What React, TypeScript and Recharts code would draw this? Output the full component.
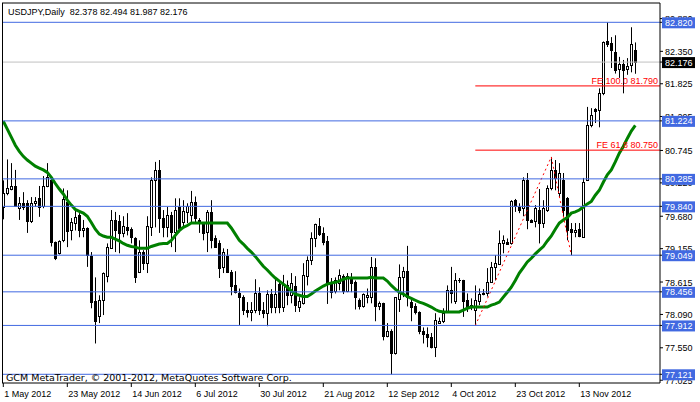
import React from "react";
import { ComposedChart, Bar, Line, XAxis, YAxis, ReferenceLine } from "recharts";

// daily bars, [open, high, low, close]
const ohlc: [number, number, number, number][] = [
  [79.83, 80.26, 79.63, 80.05], [80.05, 80.60, 80.02, 80.13], [80.12, 80.54, 80.10, 80.17], [80.17, 80.43, 79.83, 79.84],
  [79.81, 79.99, 79.62, 79.89], [79.89, 80.07, 79.78, 79.83], [79.89, 79.94, 79.41, 79.60], [79.60, 79.99, 79.57, 79.89],
  [79.89, 79.99, 79.83, 79.92], [79.97, 80.17, 79.67, 79.83], [79.84, 80.33, 79.81, 80.17], [80.17, 80.54, 80.15, 80.31],
  [80.26, 80.30, 79.19, 79.26], [79.26, 79.27, 78.97, 79.00], [79.08, 79.29, 79.06, 79.28], [79.29, 80.13, 79.26, 79.96],
  [79.91, 80.10, 79.18, 79.44], [79.45, 79.65, 79.29, 79.58], [79.57, 79.78, 79.45, 79.67], [79.70, 79.73, 79.34, 79.45],
  [79.45, 79.62, 79.34, 79.49], [79.49, 79.50, 78.86, 79.05], [79.03, 79.10, 78.19, 78.29], [78.30, 78.69, 77.62, 77.98],
  [78.06, 78.40, 77.95, 78.32], [78.32, 78.77, 78.08, 78.76], [78.71, 79.24, 78.61, 79.18], [79.16, 79.78, 79.15, 79.62],
  [79.62, 79.75, 79.10, 79.45], [79.60, 79.70, 79.08, 79.41], [79.41, 79.68, 79.34, 79.52], [79.50, 79.73, 79.37, 79.45],
  [79.47, 79.50, 79.24, 79.34], [79.32, 79.34, 78.60, 78.69], [78.77, 79.29, 78.76, 79.10], [79.10, 79.13, 78.81, 78.92],
  [78.92, 79.68, 78.76, 79.52], [79.50, 80.31, 79.36, 80.26], [80.26, 80.56, 79.50, 80.43], [80.43, 80.59, 79.41, 79.65],
  [79.65, 79.78, 79.34, 79.50], [79.50, 79.83, 79.34, 79.70], [79.70, 79.75, 79.18, 79.42], [79.42, 79.97, 79.10, 79.78],
  [79.83, 79.97, 79.42, 79.49], [79.58, 79.94, 79.49, 79.76], [79.75, 79.89, 79.57, 79.84], [79.70, 80.09, 79.58, 79.91],
  [79.91, 80.00, 79.57, 79.65], [79.62, 79.65, 79.41, 79.57], [79.55, 79.57, 79.29, 79.41], [79.42, 79.78, 79.10, 79.75],
  [79.75, 79.94, 79.16, 79.29], [79.32, 79.37, 79.17, 79.18], [79.24, 79.29, 78.68, 78.84], [78.86, 79.16, 78.76, 79.10],
  [79.03, 79.15, 78.76, 78.77], [78.77, 78.81, 78.40, 78.55], [78.56, 78.79, 78.43, 78.45], [78.43, 78.51, 77.92, 78.37],
  [78.37, 78.40, 78.08, 78.17], [78.17, 78.29, 78.04, 78.13], [78.13, 78.29, 77.98, 78.17], [78.17, 78.66, 78.11, 78.43],
  [78.43, 78.53, 78.08, 78.16], [78.16, 78.29, 78.03, 78.11], [78.11, 78.48, 77.90, 78.42], [78.42, 78.50, 78.11, 78.21],
  [78.21, 78.68, 78.11, 78.42], [78.58, 78.64, 78.11, 78.21], [78.21, 78.73, 78.13, 78.58], [78.56, 78.64, 78.24, 78.40],
  [78.40, 78.76, 78.27, 78.60], [78.55, 78.71, 78.13, 78.24], [78.21, 78.37, 78.13, 78.30], [78.27, 78.92, 78.25, 78.73],
  [78.71, 79.03, 78.56, 78.97], [78.97, 79.42, 78.89, 79.32], [79.32, 79.56, 79.18, 79.55], [79.52, 79.65, 79.36, 79.39],
  [79.41, 79.50, 79.21, 79.26], [79.28, 79.36, 78.26, 78.60], [78.58, 78.68, 78.35, 78.45], [78.47, 78.69, 78.43, 78.64],
  [78.60, 78.82, 78.48, 78.73], [78.71, 78.74, 78.42, 78.47], [78.47, 78.76, 78.45, 78.71], [78.68, 78.76, 78.45, 78.60],
  [78.61, 78.64, 78.17, 78.37], [78.32, 78.35, 78.17, 78.22], [78.22, 78.43, 78.20, 78.42], [78.37, 78.51, 78.27, 78.40],
  [78.37, 79.02, 78.27, 78.86], [78.86, 79.00, 77.98, 78.22], [78.22, 78.30, 78.16, 78.27], [78.27, 78.28, 77.67, 77.74],
  [77.74, 77.95, 77.72, 77.83], [77.83, 77.85, 77.12, 77.46], [77.46, 78.37, 77.44, 78.37], [78.34, 78.90, 78.13, 78.69],
  [78.69, 78.86, 78.37, 78.79], [78.79, 79.20, 78.22, 78.37], [78.29, 78.37, 77.98, 78.21], [78.22, 78.27, 78.09, 78.13],
  [78.13, 78.14, 77.77, 77.82], [77.83, 77.88, 77.62, 77.77], [77.77, 77.88, 77.56, 77.72], [77.72, 77.79, 77.54, 77.56],
  [77.56, 78.11, 77.40, 78.00], [77.95, 78.04, 77.94, 77.98], [77.98, 78.19, 77.95, 78.11], [78.14, 78.56, 78.13, 78.48],
  [78.48, 78.86, 78.27, 78.43], [78.30, 78.76, 78.26, 78.64], [78.64, 78.68, 78.60, 78.64], [78.64, 78.65, 78.05, 78.30],
  [78.32, 78.43, 78.13, 78.21], [78.24, 78.35, 78.16, 78.21], [78.17, 78.56, 77.91, 78.32], [78.30, 78.51, 78.24, 78.42],
  [78.43, 78.50, 78.40, 78.42], [78.43, 78.84, 78.38, 78.61], [78.61, 78.94, 78.60, 78.86], [78.86, 79.05, 78.64, 78.92],
  [78.90, 79.45, 78.89, 79.24], [79.24, 79.37, 79.08, 79.29], [79.26, 79.32, 79.22, 79.23], [79.24, 79.94, 79.22, 79.92],
  [79.94, 79.96, 79.75, 79.84], [79.83, 79.89, 79.73, 79.78], [79.81, 80.31, 79.68, 80.26], [80.26, 80.38, 79.47, 79.62],
  [79.62, 79.63, 79.57, 79.58], [79.60, 79.86, 79.50, 79.81], [79.78, 80.12, 79.24, 79.57], [79.57, 79.94, 79.49, 79.81],
  [79.78, 80.18, 79.75, 80.13], [80.13, 80.64, 80.10, 80.43], [80.43, 80.59, 80.10, 80.30], [80.05, 80.54, 79.99, 80.38],
  [80.26, 80.38, 79.67, 79.78], [79.97, 79.99, 79.29, 79.45], [79.47, 79.57, 79.05, 79.42], [79.42, 79.57, 79.34, 79.45],
  [79.47, 79.57, 79.34, 79.36], [79.34, 80.30, 79.33, 80.23], [80.26, 81.45, 80.25, 81.15], [81.15, 81.43, 81.12, 81.32],
  [81.42, 81.43, 81.19, 81.38], [81.40, 81.75, 81.12, 81.67], [81.67, 82.51, 81.64, 82.50], [82.52, 82.82, 82.42, 82.47],
  [82.48, 82.58, 82.08, 82.37], [82.34, 82.61, 81.99, 82.05], [82.06, 82.26, 81.92, 82.14], [82.14, 82.21, 81.67, 82.05],
  [82.06, 82.24, 81.97, 82.11], [82.13, 82.74, 82.01, 82.47], [82.378, 82.494, 81.987, 82.176],
];

// moving average
const maValues = [
  81.22, 81.09, 80.96, 80.83, 80.73, 80.65, 80.59, 80.54, 80.49, 80.46,
  80.43, 80.39, 80.31, 80.21, 80.12, 80.04, 79.94, 79.86, 79.79, 79.76,
  79.73, 79.68, 79.58, 79.47, 79.39, 79.36, 79.34, 79.34, 79.31, 79.28,
  79.24, 79.21, 79.19, 79.18, 79.16, 79.16, 79.16, 79.19, 79.21, 79.23,
  79.24, 79.24, 79.29, 79.37, 79.45, 79.50, 79.53, 79.57, 79.57, 79.57,
  79.57, 79.57, 79.57, 79.57, 79.57, 79.57, 79.57, 79.49, 79.39, 79.29,
  79.23, 79.16, 79.10, 79.03, 78.95, 78.87, 78.81, 78.74, 78.68, 78.63,
  78.58, 78.53, 78.47, 78.42, 78.40, 78.38, 78.38, 78.42, 78.47, 78.51,
  78.55, 78.58, 78.60, 78.61, 78.63, 78.66, 78.68, 78.68, 78.68, 78.68,
  78.68, 78.68, 78.69, 78.68, 78.68, 78.68, 78.63, 78.56, 78.50, 78.45,
  78.42, 78.38, 78.35, 78.32, 78.29, 78.27, 78.24, 78.21, 78.17, 78.14,
  78.13, 78.13, 78.13, 78.13, 78.13, 78.16, 78.19, 78.21, 78.21, 78.21,
  78.21, 78.21, 78.24, 78.26, 78.29, 78.37, 78.45, 78.53, 78.64, 78.76,
  78.85, 78.94, 79.00, 79.07, 79.13, 79.19, 79.28, 79.36, 79.47, 79.57,
  79.62, 79.66, 79.73, 79.75, 79.78, 79.83, 79.88, 79.92, 80.02, 80.10,
  80.23, 80.35, 80.43, 80.56, 80.70, 80.81, 80.94, 81.06, 81.15,
];

const xLabels = [
  "1 May 2012", "23 May 2012", "14 Jun 2012", "6 Jul 2012", "30 Jul 2012",
  "21 Aug 2012", "12 Sep 2012", "4 Oct 2012", "23 Oct 2012", "13 Nov 2012",
];
const barsPerLabel = 16;

const axisTicks = [82.88, 82.35, 81.825, 81.295, 80.745, 80.22, 79.68, 79.155, 78.615, 78.09, 77.55, 77.025];
const blueLevels = [82.82, 81.224, 80.285, 79.84, 79.049, 78.456, 77.912, 77.121];
const bidPrice = 82.176;

// fibo expansion swing points: [bar index, price]
const fiboSwing: [number, number][] = [[118, 77.91], [137, 80.64], [142, 79.05]];
const feLevels = [
  { name: "FE 100.0", price: 81.79 },
  { name: "FE 61.8", price: 80.75 },
];

const yDomain: [number, number] = [76.98, 83.1325];
const xDomain: [number, number] = [-0.325, 164.175];

const FONT = "'Liberation Sans', Arial, sans-serif";
const BLUE = "#4169e1";

const rows = ohlc.map(([o, h, l, c], i) => ({
  i, o, h, l, c,
  range: [l, h],
  ma: maValues[i],
  fe: null as number | null,
}));
fiboSwing.forEach(([i, p]) => { rows[i].fe = p; });

const last = ohlc[ohlc.length - 1];
const header = `USDJPY,Daily\u00a0\u00a0${last.map((v) => v.toFixed(3)).join(" ")}`;

const Candle = (props: any) => {
  const { x, y, width, height, payload } = props;
  if (x == null || y == null) return null;
  const { o, h, l, c } = payload;
  const top = Math.min(y, y + height);
  const bottom = Math.max(y, y + height);
  const span = h - l;
  const toY = (v: number) => (span === 0 ? top : top + ((h - v) / span) * (bottom - top));
  const cx = Math.round(x + width / 2) + 0.5;
  const bTop = Math.round(toY(Math.max(o, c)));
  const bBot = Math.round(toY(Math.min(o, c)));
  const up = c >= o;
  return (
    <g>
      <line x1={cx} x2={cx} y1={top} y2={bottom} stroke="#000" strokeWidth={1} />
      {bBot - bTop < 1 ? (
        <line x1={cx - 1.5} x2={cx + 1.5} y1={bTop + 0.5} y2={bTop + 0.5} stroke="#000" />
      ) : (
        <rect x={cx - 1} y={bTop + 0.5} width={2} height={bBot - bTop} fill={up ? "#fff" : "#000"} stroke="#000" strokeWidth={1} />
      )}
    </g>
  );
};

const YTick = (props: any) => {
  const { x, y, payload } = props;
  const v = payload.value as number;
  const label = v.toFixed(3);
  const boxed = v === bidPrice ? "#000" : blueLevels.includes(v) ? BLUE : null;
  if (boxed) {
    return (
      <g>
        <rect x={x - 1} y={y - 5} width={33} height={11} fill={boxed} />
        <text x={x + 2} y={y + 3.5} fill="#fff" fontSize={9} fontFamily={FONT}>{label}</text>
      </g>
    );
  }
  return <text x={x + 2} y={y + 3.5} fill="#000" fontSize={9} fontFamily={FONT}>{label}</text>;
};

const XTick = (props: any) => {
  const { x, y, payload } = props;
  return (
    <text x={x + 1} y={y + 10} fill="#000" fontSize={9} fontFamily={FONT}>
      {xLabels[Math.round(payload.value / barsPerLabel)]}
    </text>
  );
};

const FeLabel = (props: any) => {
  const { viewBox, text } = props;
  if (!viewBox) return null;
  return (
    <text x={viewBox.x + viewBox.width - 2} y={viewBox.y - 2} textAnchor="end" fill="#ff0000" fontSize={9} fontFamily={FONT}>
      {text}
    </text>
  );
};

export default function App() {
  return (
    <div style={{ position: "absolute", left: 0, top: 0, width: 700, height: 402, background: "#fff" }}>
      <ComposedChart width={700} height={402} data={rows} margin={{ top: 3, right: 0, bottom: 0, left: 2 }}>
        <XAxis
          dataKey="i"
          type="number"
          domain={xDomain}
          allowDataOverflow
          ticks={xLabels.map((_, k) => k * barsPerLabel)}
          interval={0}
          height={19}
          tickSize={4}
          tickMargin={0}
          axisLine={{ stroke: "#000" }}
          tickLine={{ stroke: "#000" }}
          tick={<XTick />}
        />
        <YAxis
          orientation="right"
          type="number"
          domain={yDomain}
          allowDataOverflow
          width={40}
          ticks={[...axisTicks, ...blueLevels, bidPrice]}
          interval={0}
          tickSize={3}
          tickMargin={0}
          axisLine={{ stroke: "#000" }}
          tickLine={{ stroke: "#000" }}
          tick={<YTick />}
        />
        <ReferenceLine y={bidPrice} stroke="#c0c0c0" />
        <Bar dataKey="range" barSize={3} shape={<Candle />} isAnimationActive={false} />
        <Line dataKey="ma" stroke="#008000" strokeWidth={3} dot={false} isAnimationActive={false} />
        <Line dataKey="fe" stroke="#ff0000" strokeWidth={1} strokeDasharray="2 3" dot={false} connectNulls isAnimationActive={false} />
        {blueLevels.map((v) => (
          <ReferenceLine key={v} y={v} stroke={BLUE} />
        ))}
        {feLevels.map((f) => (
          <ReferenceLine
            key={f.name}
            segment={[{ x: fiboSwing[0][0], y: f.price }, { x: xDomain[1], y: f.price }]}
            stroke="#ff0000"
            label={<FeLabel text={`${f.name} ${f.price.toFixed(3)}`} />}
          />
        ))}
        <ReferenceLine x={xDomain[0] + 0.125} stroke="#000" />
        <ReferenceLine y={yDomain[1]} stroke="#000" />
      </ComposedChart>
      <svg width={700} height={402} style={{ position: "absolute", left: 0, top: 0, pointerEvents: "none" }}>
        <text x={8} y={15} fontSize={9} fontFamily={FONT} fill="#000">{header}</text>
        <text x={6} y={381} fontSize={9.5} fontFamily="'DejaVu Sans', sans-serif" fill="#000">GCM MetaTrader, © 2001-2012, MetaQuotes Software Corp.</text>
      </svg>
    </div>
  );
}
